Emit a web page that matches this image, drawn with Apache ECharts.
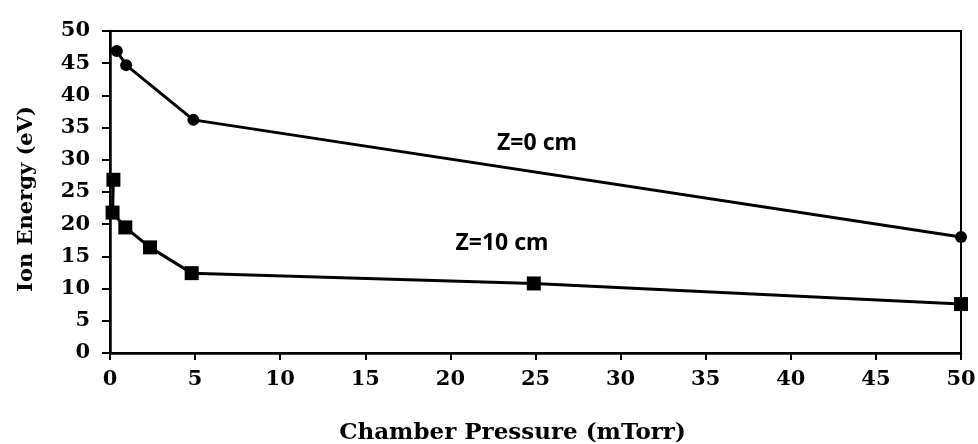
<!DOCTYPE html>
<html>
<head>
<meta charset="utf-8">
<script src="https://cdn.jsdelivr.net/npm/echarts@6/dist/echarts.min.js"></script>
<style>html,body{margin:0;padding:0;background:#fff;}#c{width:978px;height:444px;}</style>
</head>
<body>
<div id="c"></div>
<script>
// Data
var z0Pressure = [0.4, 0.95, 4.9, 50];
var z0Energy   = [46.9, 44.7, 36.2, 18.0];
var z10Pressure = [0.2, 0.15, 0.9, 2.35, 4.8, 24.9, 50];
var z10Energy   = [26.9, 21.8, 19.5, 16.4, 12.4, 10.8, 7.6];
var seriesNames = ['Z=0 cm', 'Z=10 cm'];
var xTitle = 'Chamber Pressure (mTorr)';
var yTitle = 'Ion Energy (eV)';

function pairs(xs, ys){ return xs.map(function(x,i){ return [x, ys[i]]; }); }

var chart = echarts.init(document.getElementById('c'), null, {renderer:'canvas'});
var serif = 'DejaVu Serif';
var sans = 'Noto Sans';
chart.setOption({
  animation: false,
  backgroundColor: '#fff',
  grid: {left: 110, right: 17, top: 31, bottom: 91, show: true, borderColor: '#000', borderWidth: 2, containLabel: false, outerBoundsMode: 'none'},
  xAxis: {
    type: 'value', min: 0, max: 50, interval: 5,
    name: xTitle, nameLocation: 'middle', nameGap: 69,
    nameTextStyle: {fontFamily: serif, fontWeight: 'bold', fontSize: 23, color: '#000', padding: [0, 46, 0, 0]},
    axisLine: {show: true, onZero: false, lineStyle: {color: '#000', width: 2.5}},
    axisTick: {show: true, length: 7, lineStyle: {color: '#000', width: 2}},
    axisLabel: {margin: 16, fontFamily: serif, fontWeight: 'bold', fontSize: 21, color: '#000'},
    splitLine: {show: false}
  },
  yAxis: {
    type: 'value', min: 0, max: 50, interval: 5,
    name: yTitle, nameLocation: 'middle', nameGap: 73, nameRotate: 90,
    nameTextStyle: {fontFamily: serif, fontWeight: 'bold', fontSize: 21, color: '#000', padding: [0, 14, 0, 0]},
    axisLine: {show: true, onZero: false, lineStyle: {color: '#000', width: 2.5}},
    axisTick: {show: true, length: 8, lineStyle: {color: '#000', width: 2}},
    axisLabel: {margin: 20, fontFamily: serif, fontWeight: 'bold', fontSize: 21, color: '#000'},
    splitLine: {show: false}
  },
  series: [
    {name: seriesNames[0], type: 'line', data: pairs(z0Pressure, z0Energy),
     symbol: 'circle', symbolSize: 12, lineStyle: {color: '#000', width: 3},
     itemStyle: {color: '#000'}},
    {name: seriesNames[1], type: 'line', data: pairs(z10Pressure, z10Energy),
     symbol: 'rect', symbolSize: 14, lineStyle: {color: '#000', width: 3},
     itemStyle: {color: '#000'}}
  ],
  graphic: [
    {type: 'text', x: 537, y: 143, style: {text: seriesNames[0], fontFamily: sans, fontWeight: 'bold', fontSize: 23, fill: '#000', align: 'center', verticalAlign: 'middle'}},
    {type: 'text', x: 502, y: 243, style: {text: seriesNames[1], fontFamily: sans, fontWeight: 'bold', fontSize: 23, fill: '#000', align: 'center', verticalAlign: 'middle'}}
  ]
});
</script>
</body>
</html>
